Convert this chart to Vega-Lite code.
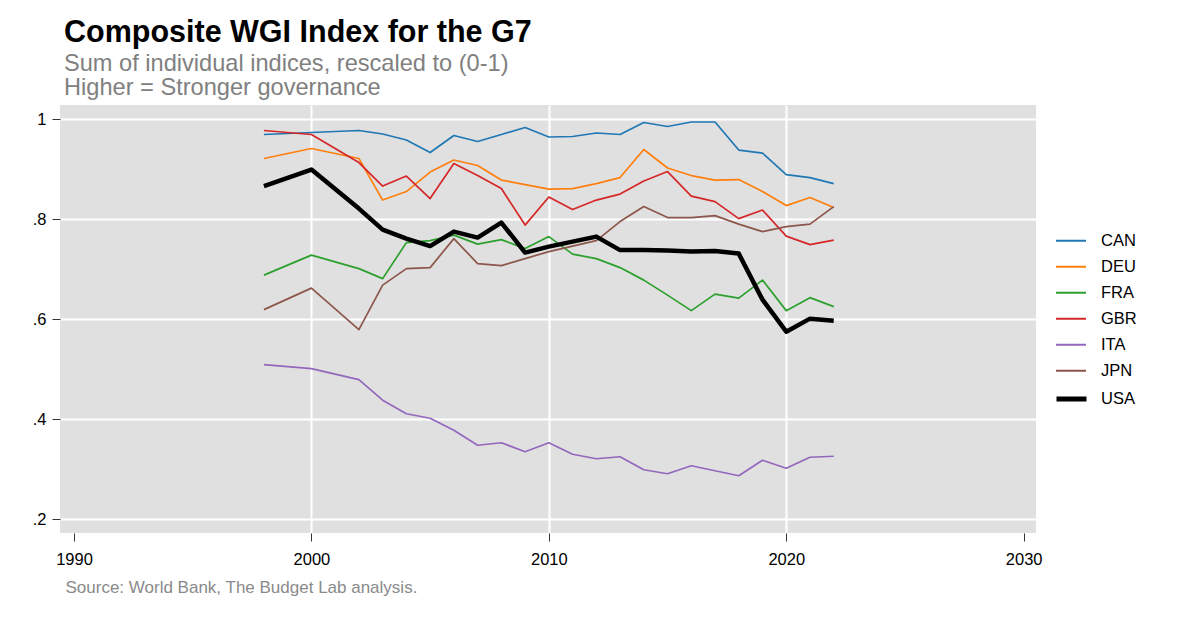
{
  "$schema": "https://vega.github.io/schema/vega-lite/v6.json",
  "autosize": {"type": "none"},
  "width": 976,
  "height": 428,
  "padding": {"left": 60, "top": 105, "right": 164, "bottom": 86},
  "background": "white",
  "title": {
    "text": "Composite WGI Index for the G7",
    "subtitle": ["Sum of individual indices, rescaled to (0-1)", "Higher = Stronger governance"],
    "anchor": "start",
    "frame": "group",
    "dx": 4,
    "offset": 5,
    "fontSize": 30.5,
    "fontWeight": "bold",
    "color": "black",
    "subtitleFontSize": 23.6,
    "subtitleColor": "#808080",
    "subtitleLineHeight": 24,
    "subtitlePadding": 4
  },
  "data": {"values": [
    {"country":"CAN","year":1998,"value":0.969},{"country":"CAN","year":2000,"value":0.973},{"country":"CAN","year":2002,"value":0.977},{"country":"CAN","year":2003,"value":0.970},{"country":"CAN","year":2004,"value":0.958},{"country":"CAN","year":2005,"value":0.933},{"country":"CAN","year":2006,"value":0.967},{"country":"CAN","year":2007,"value":0.955},{"country":"CAN","year":2008,"value":0.969},{"country":"CAN","year":2009,"value":0.983},{"country":"CAN","year":2010,"value":0.964},{"country":"CAN","year":2011,"value":0.965},{"country":"CAN","year":2012,"value":0.972},{"country":"CAN","year":2013,"value":0.969},{"country":"CAN","year":2014,"value":0.993},{"country":"CAN","year":2015,"value":0.985},{"country":"CAN","year":2016,"value":0.994},{"country":"CAN","year":2017,"value":0.994},{"country":"CAN","year":2018,"value":0.938},{"country":"CAN","year":2019,"value":0.932},{"country":"CAN","year":2020,"value":0.889},{"country":"CAN","year":2021,"value":0.883},{"country":"CAN","year":2022,"value":0.871},
    {"country":"DEU","year":1998,"value":0.921},{"country":"DEU","year":2000,"value":0.941},{"country":"DEU","year":2002,"value":0.921},{"country":"DEU","year":2003,"value":0.838},{"country":"DEU","year":2004,"value":0.855},{"country":"DEU","year":2005,"value":0.894},{"country":"DEU","year":2006,"value":0.918},{"country":"DEU","year":2007,"value":0.907},{"country":"DEU","year":2008,"value":0.878},{"country":"DEU","year":2009,"value":0.869},{"country":"DEU","year":2010,"value":0.860},{"country":"DEU","year":2011,"value":0.861},{"country":"DEU","year":2012,"value":0.871},{"country":"DEU","year":2013,"value":0.883},{"country":"DEU","year":2014,"value":0.939},{"country":"DEU","year":2015,"value":0.902},{"country":"DEU","year":2016,"value":0.887},{"country":"DEU","year":2017,"value":0.878},{"country":"DEU","year":2018,"value":0.879},{"country":"DEU","year":2019,"value":0.855},{"country":"DEU","year":2020,"value":0.827},{"country":"DEU","year":2021,"value":0.843},{"country":"DEU","year":2022,"value":0.823},
    {"country":"FRA","year":1998,"value":0.688},{"country":"FRA","year":2000,"value":0.728},{"country":"FRA","year":2002,"value":0.701},{"country":"FRA","year":2003,"value":0.681},{"country":"FRA","year":2004,"value":0.753},{"country":"FRA","year":2005,"value":0.757},{"country":"FRA","year":2006,"value":0.768},{"country":"FRA","year":2007,"value":0.750},{"country":"FRA","year":2008,"value":0.759},{"country":"FRA","year":2009,"value":0.741},{"country":"FRA","year":2010,"value":0.765},{"country":"FRA","year":2011,"value":0.730},{"country":"FRA","year":2012,"value":0.721},{"country":"FRA","year":2013,"value":0.703},{"country":"FRA","year":2014,"value":0.678},{"country":"FRA","year":2015,"value":0.648},{"country":"FRA","year":2016,"value":0.617},{"country":"FRA","year":2017,"value":0.650},{"country":"FRA","year":2018,"value":0.642},{"country":"FRA","year":2019,"value":0.678},{"country":"FRA","year":2020,"value":0.617},{"country":"FRA","year":2021,"value":0.643},{"country":"FRA","year":2022,"value":0.625},
    {"country":"GBR","year":1998,"value":0.977},{"country":"GBR","year":2000,"value":0.969},{"country":"GBR","year":2002,"value":0.913},{"country":"GBR","year":2003,"value":0.866},{"country":"GBR","year":2004,"value":0.886},{"country":"GBR","year":2005,"value":0.841},{"country":"GBR","year":2006,"value":0.911},{"country":"GBR","year":2007,"value":0.887},{"country":"GBR","year":2008,"value":0.861},{"country":"GBR","year":2009,"value":0.788},{"country":"GBR","year":2010,"value":0.844},{"country":"GBR","year":2011,"value":0.819},{"country":"GBR","year":2012,"value":0.838},{"country":"GBR","year":2013,"value":0.850},{"country":"GBR","year":2014,"value":0.876},{"country":"GBR","year":2015,"value":0.895},{"country":"GBR","year":2016,"value":0.846},{"country":"GBR","year":2017,"value":0.835},{"country":"GBR","year":2018,"value":0.801},{"country":"GBR","year":2019,"value":0.818},{"country":"GBR","year":2020,"value":0.766},{"country":"GBR","year":2021,"value":0.749},{"country":"GBR","year":2022,"value":0.758},
    {"country":"ITA","year":1998,"value":0.509},{"country":"ITA","year":2000,"value":0.501},{"country":"ITA","year":2002,"value":0.479},{"country":"ITA","year":2003,"value":0.438},{"country":"ITA","year":2004,"value":0.411},{"country":"ITA","year":2005,"value":0.402},{"country":"ITA","year":2006,"value":0.378},{"country":"ITA","year":2007,"value":0.348},{"country":"ITA","year":2008,"value":0.353},{"country":"ITA","year":2009,"value":0.335},{"country":"ITA","year":2010,"value":0.353},{"country":"ITA","year":2011,"value":0.330},{"country":"ITA","year":2012,"value":0.321},{"country":"ITA","year":2013,"value":0.325},{"country":"ITA","year":2014,"value":0.299},{"country":"ITA","year":2015,"value":0.291},{"country":"ITA","year":2016,"value":0.307},{"country":"ITA","year":2017,"value":0.297},{"country":"ITA","year":2018,"value":0.287},{"country":"ITA","year":2019,"value":0.318},{"country":"ITA","year":2020,"value":0.302},{"country":"ITA","year":2021,"value":0.324},{"country":"ITA","year":2022,"value":0.326},
    {"country":"JPN","year":1998,"value":0.619},{"country":"JPN","year":2000,"value":0.662},{"country":"JPN","year":2002,"value":0.579},{"country":"JPN","year":2003,"value":0.668},{"country":"JPN","year":2004,"value":0.701},{"country":"JPN","year":2005,"value":0.703},{"country":"JPN","year":2006,"value":0.761},{"country":"JPN","year":2007,"value":0.711},{"country":"JPN","year":2008,"value":0.707},{"country":"JPN","year":2009,"value":0.721},{"country":"JPN","year":2010,"value":0.735},{"country":"JPN","year":2011,"value":0.746},{"country":"JPN","year":2012,"value":0.757},{"country":"JPN","year":2013,"value":0.795},{"country":"JPN","year":2014,"value":0.825},{"country":"JPN","year":2015,"value":0.803},{"country":"JPN","year":2016,"value":0.803},{"country":"JPN","year":2017,"value":0.807},{"country":"JPN","year":2018,"value":0.790},{"country":"JPN","year":2019,"value":0.775},{"country":"JPN","year":2020,"value":0.785},{"country":"JPN","year":2021,"value":0.790},{"country":"JPN","year":2022,"value":0.825},
    {"country":"USA","year":1998,"value":0.866},{"country":"USA","year":2000,"value":0.899},{"country":"USA","year":2002,"value":0.821},{"country":"USA","year":2003,"value":0.779},{"country":"USA","year":2004,"value":0.761},{"country":"USA","year":2005,"value":0.746},{"country":"USA","year":2006,"value":0.775},{"country":"USA","year":2007,"value":0.763},{"country":"USA","year":2008,"value":0.793},{"country":"USA","year":2009,"value":0.733},{"country":"USA","year":2010,"value":0.745},{"country":"USA","year":2011,"value":0.755},{"country":"USA","year":2012,"value":0.765},{"country":"USA","year":2013,"value":0.738},{"country":"USA","year":2014,"value":0.738},{"country":"USA","year":2015,"value":0.737},{"country":"USA","year":2016,"value":0.735},{"country":"USA","year":2017,"value":0.736},{"country":"USA","year":2018,"value":0.731},{"country":"USA","year":2019,"value":0.639},{"country":"USA","year":2020,"value":0.575},{"country":"USA","year":2021,"value":0.601},{"country":"USA","year":2022,"value":0.597}
  ]},
  "encoding": {
    "x": {
      "field": "year", "type": "quantitative",
      "scale": {"domain": [1989.41, 2030.52], "nice": false, "zero": false},
      "axis": {
        "values": [1990, 2000, 2010, 2020, 2030],
        "format": "d",
        "domain": false,
        "tickSize": 8,
        "tickColor": "#333333",
        "tickWidth": 1,
        "labelFontSize": 16.5,
        "labelColor": "black",
        "labelPadding": 10,
        "grid": true,
        "gridColor": {"condition": {"test": "datum.value == 1990 || datum.value == 2030", "value": "transparent"}, "value": "white"},
        "gridWidth": 2,
        "title": "Source: World Bank, The Budget Lab analysis.",
        "titleAnchor": "start",
        "titleAlign": "left",
        "titleBaseline": "alphabetic",
        "titleX": 5,
        "titleY": 59,
        "titleFontSize": 17,
        "titleFontWeight": "normal",
        "titleColor": "#8a8a8a"
      }
    },
    "y": {
      "field": "value", "type": "quantitative",
      "scale": {"domain": [0.1726, 1.028], "nice": false, "zero": false},
      "axis": {
        "values": [0.2, 0.4, 0.6, 0.8, 1],
        "labelExpr": "datum.value == 1 ? '1' : replace(format(datum.value, '.1f'), '0.', '.')",
        "domain": false,
        "tickSize": 8,
        "tickColor": "#333333",
        "tickWidth": 1,
        "labelFontSize": 16.5,
        "labelColor": "black",
        "labelPadding": 6,
        "grid": true,
        "gridColor": "white",
        "gridWidth": 2,
        "title": null
      }
    }
  },
  "layer": [
    {
      "transform": [{"filter": "datum.country !== 'USA'"}],
      "mark": {"type": "line", "strokeWidth": 1.7, "strokeJoin": "round"},
      "encoding": {
        "color": {
          "field": "country", "type": "nominal",
          "scale": {
            "domain": ["CAN", "DEU", "FRA", "GBR", "ITA", "JPN"],
            "range": ["#1f77b4", "#ff7f0e", "#2ca02c", "#d62728", "#9467bd", "#8c564b"]
          },
          "legend": {
            "title": null,
            "orient": "none",
            "legendX": 995,
            "legendY": 123,
            "symbolType": "stroke",
            "symbolSize": 900,
            "symbolStrokeWidth": 2,
            "labelFontSize": 16.5,
            "labelColor": "black",
            "labelOffset": 14,
            "clipHeight": 25.7,
            "rowPadding": 0
          }
        }
      }
    },
    {
      "transform": [{"filter": "datum.country === 'USA'"}],
      "mark": {"type": "line", "strokeWidth": 4.5, "strokeJoin": "round"},
      "encoding": {
        "stroke": {
          "field": "country", "type": "nominal",
          "scale": {"domain": ["USA"], "range": ["#000000"]},
          "legend": {
            "title": null,
            "orient": "none",
            "legendX": 994,
            "legendY": 280.8,
            "symbolType": "stroke",
            "symbolSize": 900,
            "symbolStrokeWidth": 5,
            "labelFontSize": 16.5,
            "labelColor": "black",
            "labelOffset": 12,
            "clipHeight": 26.3,
            "rowPadding": 0
          }
        }
      }
    }
  ],
  "config": {
    "font": "Liberation Sans",
    "view": {"fill": "#e0e0e0", "stroke": null}
  }
}
